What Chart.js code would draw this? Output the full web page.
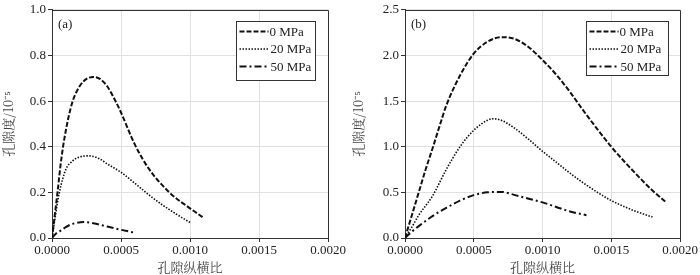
<!DOCTYPE html>
<html><head><meta charset="utf-8">
<script src="https://cdn.jsdelivr.net/npm/chart.js@4.4.1/dist/chart.umd.min.js"></script>
<style>
html,body{margin:0;padding:0;background:#fff;}
#wrap{position:relative;width:700px;height:275px;}
.c{position:absolute;top:0;width:350px;height:275px;}
</style></head>
<body>
<div id="wrap">
<div class="c" style="left:0"><canvas id="ca" width="350" height="275"></canvas></div>
<div class="c" style="left:350px"><canvas id="cb" width="350" height="275"></canvas></div>
</div>
<script>
const seriesLabels = ['0 MPa', '20 MPa', '50 MPa'];
const xTicks = [0, 0.0005, 0.001, 0.0015, 0.002];
const yTicksA = [0, 0.2, 0.4, 0.6, 0.8, 1.0];
const yTicksB = [0, 0.5, 1.0, 1.5, 2.0, 2.5];

// Panel (a)
const a0x = [0, 0.00002, 0.00004, 0.00006, 0.00008, 0.0001, 0.00012, 0.00015, 0.0002, 0.00025, 0.0003, 0.00035, 0.0004, 0.00046, 0.0005, 0.0006, 0.0007, 0.00085, 0.001, 0.0011];
const a0y = [0, 0.1, 0.2, 0.31, 0.4, 0.47, 0.53, 0.6, 0.665, 0.697, 0.706, 0.696, 0.665, 0.6, 0.55, 0.41, 0.305, 0.2, 0.13, 0.088];
const a20x = [0, 0.00002, 0.00005, 0.0001, 0.00015, 0.0002, 0.00027, 0.00035, 0.0004, 0.0005, 0.0006, 0.0007, 0.0008, 0.0009, 0.001];
const a20y = [0, 0.08, 0.19, 0.3, 0.338, 0.355, 0.36, 0.345, 0.325, 0.288, 0.24, 0.19, 0.145, 0.105, 0.068];
const a50x = [0, 0.00003, 0.00007, 0.0001, 0.00015, 0.00023, 0.0003, 0.0004, 0.0005, 0.0006];
const a50y = [0, 0.02, 0.035, 0.048, 0.062, 0.07, 0.065, 0.05, 0.036, 0.023];

// Panel (b)
const b0x = [0, 0.00005, 0.0001, 0.00015, 0.0002, 0.00025, 0.0003, 0.0004, 0.0005, 0.0006, 0.0007, 0.0008, 0.0009, 0.001, 0.0011, 0.0012, 0.0013, 0.0014, 0.0015, 0.0016, 0.0017, 0.0018, 0.0019];
const b0y = [0, 0.25, 0.5, 0.75, 0.98, 1.22, 1.45, 1.78, 2.02, 2.15, 2.2, 2.18, 2.09, 1.95, 1.79, 1.6, 1.39, 1.19, 1.0, 0.83, 0.67, 0.52, 0.39];
const b20x = [0, 0.00005, 0.0001, 0.0002, 0.0003, 0.0004, 0.0005, 0.0006, 0.00064, 0.0007, 0.0008, 0.0009, 0.001, 0.0011, 0.0012, 0.0013, 0.0014, 0.0015, 0.0016, 0.0017, 0.0018];
const b20y = [0, 0.12, 0.25, 0.46, 0.75, 1.0, 1.18, 1.29, 1.306, 1.29, 1.2, 1.08, 0.95, 0.83, 0.71, 0.6, 0.5, 0.41, 0.34, 0.28, 0.23];
const b50x = [0, 0.00005, 0.0001, 0.0002, 0.0003, 0.0004, 0.0005, 0.0006, 0.0007, 0.0008, 0.0009, 0.001, 0.0011, 0.0012, 0.00132];
const b50y = [0, 0.07, 0.13, 0.24, 0.33, 0.41, 0.47, 0.5, 0.505, 0.47, 0.43, 0.39, 0.34, 0.29, 0.25];

const serif = "'Liberation Serif','Times New Roman',serif";
const cjk = "'Noto Serif CJK SC','Noto Sans CJK SC',serif";

function pts(xs, ys){ return xs.map((x,i)=>({x:x, y:ys[i]})); }

const styles = [
  {borderDash:[5,2], borderWidth:2},
  {borderDash:[1.5,1.5], borderWidth:1.6},
  {borderDash:[7,3,2,3], borderWidth:2}
];

const framePlugin = {
  id:'frame',
  afterDraw(chart, args, opts){
    const ctx = chart.ctx, ca = chart.chartArea;
    ctx.save();
    ctx.strokeStyle = '#333'; ctx.lineWidth = 1;
    ctx.beginPath();
    ctx.moveTo(Math.round(ca.left)+0.5, Math.round(ca.top)+0.5);
    ctx.lineTo(Math.round(ca.right)+0.5, Math.round(ca.top)+0.5);
    ctx.lineTo(Math.round(ca.right)+0.5, Math.round(ca.bottom)+0.5);
    ctx.stroke();
    ctx.fillStyle = '#222';
    ctx.font = "13px " + serif;
    ctx.textBaseline = 'middle';
    ctx.fillText(opts.label, ca.left + 6, ca.top + 15);
    const bw = opts.bw, bh = opts.bh;
    const bx = Math.round(ca.right - opts.rOff - bw) + 0.5, by = Math.round(ca.top + 11) + 0.5;
    ctx.fillStyle = '#fff';
    ctx.fillRect(bx, by, bw, bh);
    ctx.strokeStyle = '#333'; ctx.lineWidth = 1; ctx.setLineDash([]);
    ctx.strokeRect(bx, by, bw, bh);
    chart.data.datasets.forEach((ds, i) => {
      const yy = by + 10 + i * 17.5;
      ctx.save();
      ctx.strokeStyle = ds.borderColor; ctx.lineWidth = ds.borderWidth;
      ctx.setLineDash(ds.borderDash);
      ctx.beginPath(); ctx.moveTo(bx + 3, yy); ctx.lineTo(bx + 32, yy); ctx.stroke();
      ctx.restore();
      ctx.fillStyle = '#222';
      ctx.font = "13px " + serif;
      ctx.textBaseline = 'middle';
      ctx.fillText(ds.label, bx + (i === 0 ? 33 : 34), yy + 1);
    });
    ctx.restore();
  }
};

function makeChart(id, sets, yTicks, yMax, yWidth, rightPad, label, bw, bh, rOff){
  return new Chart(document.getElementById(id), {
    type:'scatter',
    data:{ datasets: sets.map((s,i)=>({
      label: seriesLabels[i],
      data: pts(s[0], s[1]),
      showLine:true, pointRadius:0, borderColor:'#111', backgroundColor:'#111',
      borderDash: styles[i].borderDash, borderWidth: styles[i].borderWidth,
      cubicInterpolationMode:'monotone', fill:false
    }))},
    options:{
      responsive:false, animation:false, devicePixelRatio:1,
      layout:{padding:{top:7, right:rightPad, left:0, bottom:0}},
      plugins:{legend:{display:false}, tooltip:{enabled:false}, frame:{label:label, bw:bw, bh:bh, rOff:rOff}},
      scales:{
        x:{type:'linear', min:0, max:0.002,
          afterBuildTicks(s){ s.ticks = xTicks.map(v=>({value:v})); },
          afterFit(s){ s.height = 37; },
          ticks:{color:'#222', font:{family:serif, size:13}, padding:1, maxRotation:0,
            callback:(v)=>Number(v).toFixed(4)},
          grid:{color:'#e0e0e0', tickColor:'#333', tickLength:4, lineWidth:1},
          border:{color:'#333', width:1},
          title:{display:true, text:'孔隙纵横比', color:'#444', font:{family:cjk, size:13}, padding:{top:0,bottom:0}}
        },
        y:{type:'linear', min:0, max:yMax,
          afterBuildTicks(s){ s.ticks = yTicks.map(v=>({value:v})); },
          afterFit(s){ s.width = yWidth; },
          ticks:{color:'#222', font:{family:serif, size:13}, padding:2,
            callback:(v)=>Number(v).toFixed(1)},
          grid:{color:'#e0e0e0', tickColor:'#333', tickLength:4, lineWidth:1},
          border:{color:'#333', width:1},
          title:{display:true, text:'孔隙度/10⁻⁵', color:'#444', font:{family:cjk, size:13}, padding:{top:0,bottom:2}}
        }
      }
    },
    plugins:[framePlugin]
  });
}

makeChart('ca', [[a0x,a0y],[a20x,a20y],[a50x,a50y]], yTicksA, 1.0, 52, 22, '(a)', 79, 59, 13);
makeChart('cb', [[b0x,b0y],[b20x,b20y],[b50x,b50y]], yTicksB, 2.5, 55, 20, '(b)', 82, 54, 12);
</script>
</body></html>
